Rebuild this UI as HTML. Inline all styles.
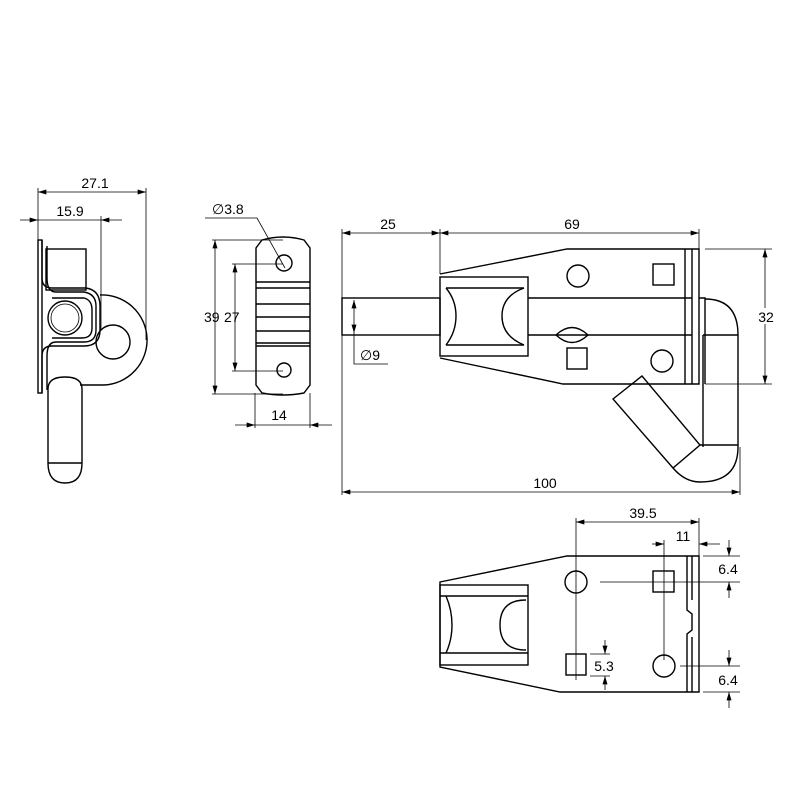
<!DOCTYPE html>
<html><head><style>body{margin:0;background:#fff}svg{display:block}text{font-family:"Liberation Sans",sans-serif;font-size:14px;fill:#000}</style></head>
<body>
<svg width="800" height="800" viewBox="0 0 800 800" xmlns="http://www.w3.org/2000/svg">
<defs>
<marker id="a" viewBox="0 0 10 6" refX="10" refY="3" markerWidth="9" markerHeight="5" orient="auto-start-reverse" markerUnits="userSpaceOnUse"><path d="M0,0L10,3L0,6z" fill="#000"/></marker>
</defs>
<g fill="none" stroke="#000" stroke-width="1.4">
<rect x="38" y="240" width="4" height="153"/>
<rect x="46" y="249" width="40" height="41"/>
<path d="M42,240 V278 Q42,288 52,288 H86 Q100,290 100,306 V330 Q100,346 84,346 H52 Q42,346 42,356 V393"/>
<path d="M47,246 V278 Q47,292 56,292 H84 Q96,294 96,306 V330 Q96,342 84,342 H56 Q47,342 47,356 V390"/>
<path d="M52,298 H84 Q92,300 92,310 V328 Q92,338 82,338 H52"/>
<circle cx="65" cy="318" r="17"/>
<circle cx="65" cy="318" r="14" stroke-width="0.8"/>
<path d="M100,295 A45,45 0 0 1 104,385 H80"/>
<circle cx="113" cy="342" r="17"/>
<path d="M48,463 V389 Q48,377 65,377 Q82,377 82,389 V463 Q82,483 65,483 Q48,483 48,463 Z"/>
<line x1="48" y1="463" x2="82" y2="463"/>
<path d="M262,240 Q283,234 304,240 L310,248 V385 L304,393 Q283,397 262,393 L256,385 V248 Z"/>
<line x1="256" y1="282" x2="310" y2="282"/><line x1="256" y1="288" x2="310" y2="288"/>
<line x1="256" y1="304" x2="310" y2="304"/><line x1="256" y1="317" x2="310" y2="317"/>
<line x1="256" y1="331" x2="310" y2="331"/><line x1="256" y1="343" x2="310" y2="343"/><line x1="256" y1="346" x2="310" y2="346"/>
<circle cx="284" cy="263" r="8"/>
<circle cx="284" cy="370" r="7"/>
<path d="M440,274 L567,249 H699 V384 H563 L440,358"/>
<line x1="685" y1="249" x2="685" y2="384"/><line x1="692" y1="249" x2="692" y2="384"/>
<rect x="440" y="277" width="88" height="79"/>
<line x1="446" y1="288" x2="524" y2="288"/><line x1="446" y1="345" x2="524" y2="345"/>
<path d="M446,288 Q456,300 456,316 Q456,332 446,345"/>
<path d="M524,288 Q502,296 502,316 Q502,336 524,345"/>
<rect x="342" y="298" width="98" height="37"/>
<line x1="528" y1="298" x2="692" y2="298"/><line x1="528" y1="335" x2="692" y2="335"/>
<path d="M556,335 Q572,320 588,335 Q572,350 556,335Z"/>
<circle cx="578" cy="276" r="11"/>
<rect x="653" y="264" width="21" height="21"/>
<rect x="567" y="348" width="20" height="21"/>
<circle cx="662" cy="361" r="11"/>
<path d="M699,298 H705 V384"/>
<path d="M705,299 Q738,299 738,335 V447 Q738,482 700,482 Q685,482 673,468"/>
<line x1="703" y1="335" x2="738" y2="335"/><line x1="703" y1="335" x2="703" y2="447"/>
<line x1="700" y1="445" x2="738" y2="445"/>
<path d="M613,399 L642,376 L700,445 L673,468 Z"/>
<path d="M440,582 L567,556 H699 V692 H560 L440,667 Z"/>
<path d="M687,556 V610 L692,614 V630 L687,634 V692"/>
<line x1="692" y1="556" x2="692" y2="600"/><line x1="692" y1="637" x2="692" y2="692"/>
<rect x="440" y="585" width="88" height="80"/>
<line x1="440" y1="596" x2="528" y2="596"/><line x1="440" y1="653" x2="528" y2="653"/>
<path d="M446,596 Q452,610 452,625 Q452,640 446,653"/>
<path d="M526,600 Q500,600 500,625 Q500,650 526,650"/>
<circle cx="576" cy="582" r="11"/>
<rect x="653" y="571" width="21" height="21"/>
<rect x="566" y="654" width="20" height="21"/>
<circle cx="664" cy="666" r="11"/>
</g>
<g fill="none" stroke="#000" stroke-width="0.8">
<line x1="38" y1="188" x2="38" y2="240"/><line x1="146" y1="188" x2="146" y2="340"/><line x1="101" y1="216" x2="101" y2="330"/>
<line x1="38" y1="192" x2="146" y2="192" marker-start="url(#a)" marker-end="url(#a)"/>
<line x1="20" y1="220" x2="38" y2="220" marker-end="url(#a)"/>
<line x1="38" y1="220" x2="101" y2="220"/>
<line x1="122" y1="220" x2="101" y2="220" marker-end="url(#a)"/>
<path d="M205,218 H257 L285,268"/>
<line x1="212" y1="240" x2="283" y2="240"/><line x1="212" y1="394" x2="283" y2="394"/>
<line x1="215" y1="240" x2="215" y2="394" marker-start="url(#a)" marker-end="url(#a)"/>
<line x1="232" y1="264" x2="283" y2="264"/><line x1="232" y1="371" x2="283" y2="371"/>
<line x1="235" y1="264" x2="235" y2="371" marker-start="url(#a)" marker-end="url(#a)"/>
<line x1="255" y1="393" x2="255" y2="428"/><line x1="310" y1="393" x2="310" y2="428"/>
<line x1="235" y1="425" x2="255" y2="425" marker-end="url(#a)"/>
<line x1="255" y1="425" x2="310" y2="425"/>
<line x1="332" y1="425" x2="310" y2="425" marker-end="url(#a)"/>
<line x1="342" y1="229" x2="342" y2="495"/><line x1="440" y1="229" x2="440" y2="274"/><line x1="699" y1="229" x2="699" y2="249"/>
<line x1="342" y1="233" x2="440" y2="233" marker-start="url(#a)" marker-end="url(#a)"/>
<line x1="440" y1="233" x2="699" y2="233" marker-start="url(#a)" marker-end="url(#a)"/>
<line x1="740" y1="447" x2="740" y2="495"/>
<line x1="342" y1="492" x2="740" y2="492" marker-start="url(#a)" marker-end="url(#a)"/>
<line x1="705" y1="249" x2="772" y2="249"/><line x1="705" y1="384" x2="772" y2="384"/>
<line x1="765" y1="249" x2="765" y2="384" marker-start="url(#a)" marker-end="url(#a)"/>
<line x1="354" y1="300" x2="354" y2="333" marker-start="url(#a)" marker-end="url(#a)"/>
<path d="M354,333 V364 H388"/>
<line x1="576" y1="518" x2="576" y2="680"/><line x1="699" y1="518" x2="699" y2="556"/>
<line x1="576" y1="522" x2="699" y2="522" marker-start="url(#a)" marker-end="url(#a)"/>
<line x1="664" y1="540" x2="664" y2="660"/>
<line x1="652" y1="544" x2="664" y2="544" marker-end="url(#a)"/>
<line x1="720" y1="544" x2="699" y2="544" marker-end="url(#a)"/>
<line x1="703" y1="556" x2="740" y2="556"/><line x1="600" y1="582" x2="740" y2="582"/>
<line x1="729" y1="540" x2="729" y2="556" marker-end="url(#a)"/>
<line x1="729" y1="598" x2="729" y2="582" marker-end="url(#a)"/>
<line x1="590" y1="676" x2="610" y2="676"/><line x1="590" y1="654" x2="610" y2="654"/>
<line x1="605" y1="640" x2="605" y2="654" marker-end="url(#a)"/>
<line x1="605" y1="690" x2="605" y2="676" marker-end="url(#a)"/>
<line x1="680" y1="666" x2="740" y2="666"/><line x1="703" y1="692" x2="740" y2="692"/>
<line x1="729" y1="650" x2="729" y2="666" marker-end="url(#a)"/>
<line x1="729" y1="708" x2="729" y2="692" marker-end="url(#a)"/>
</g>
<g>
<text x="95" y="188" text-anchor="middle">27.1</text>
<text x="70" y="216" text-anchor="middle">15.9</text>
<text x="212" y="214">∅3.8</text>
<text x="204" y="322">39</text><text x="224" y="322">27</text>
<text x="279" y="420" text-anchor="middle">14</text>
<text x="388" y="229" text-anchor="middle">25</text>
<text x="572" y="229" text-anchor="middle">69</text>
<text x="545" y="488" text-anchor="middle">100</text>
<rect x="755" y="308" width="22" height="16" fill="#fff"/>
<text x="766" y="322" text-anchor="middle">32</text>
<text x="360" y="360">∅9</text>
<text x="643" y="518" text-anchor="middle">39.5</text>
<text x="683" y="541" text-anchor="middle">11</text>
<text x="728" y="574" text-anchor="middle">6.4</text>
<text x="604" y="671" text-anchor="middle">5.3</text>
<text x="728" y="685" text-anchor="middle">6.4</text>
</g>
</svg>
</body></html>
